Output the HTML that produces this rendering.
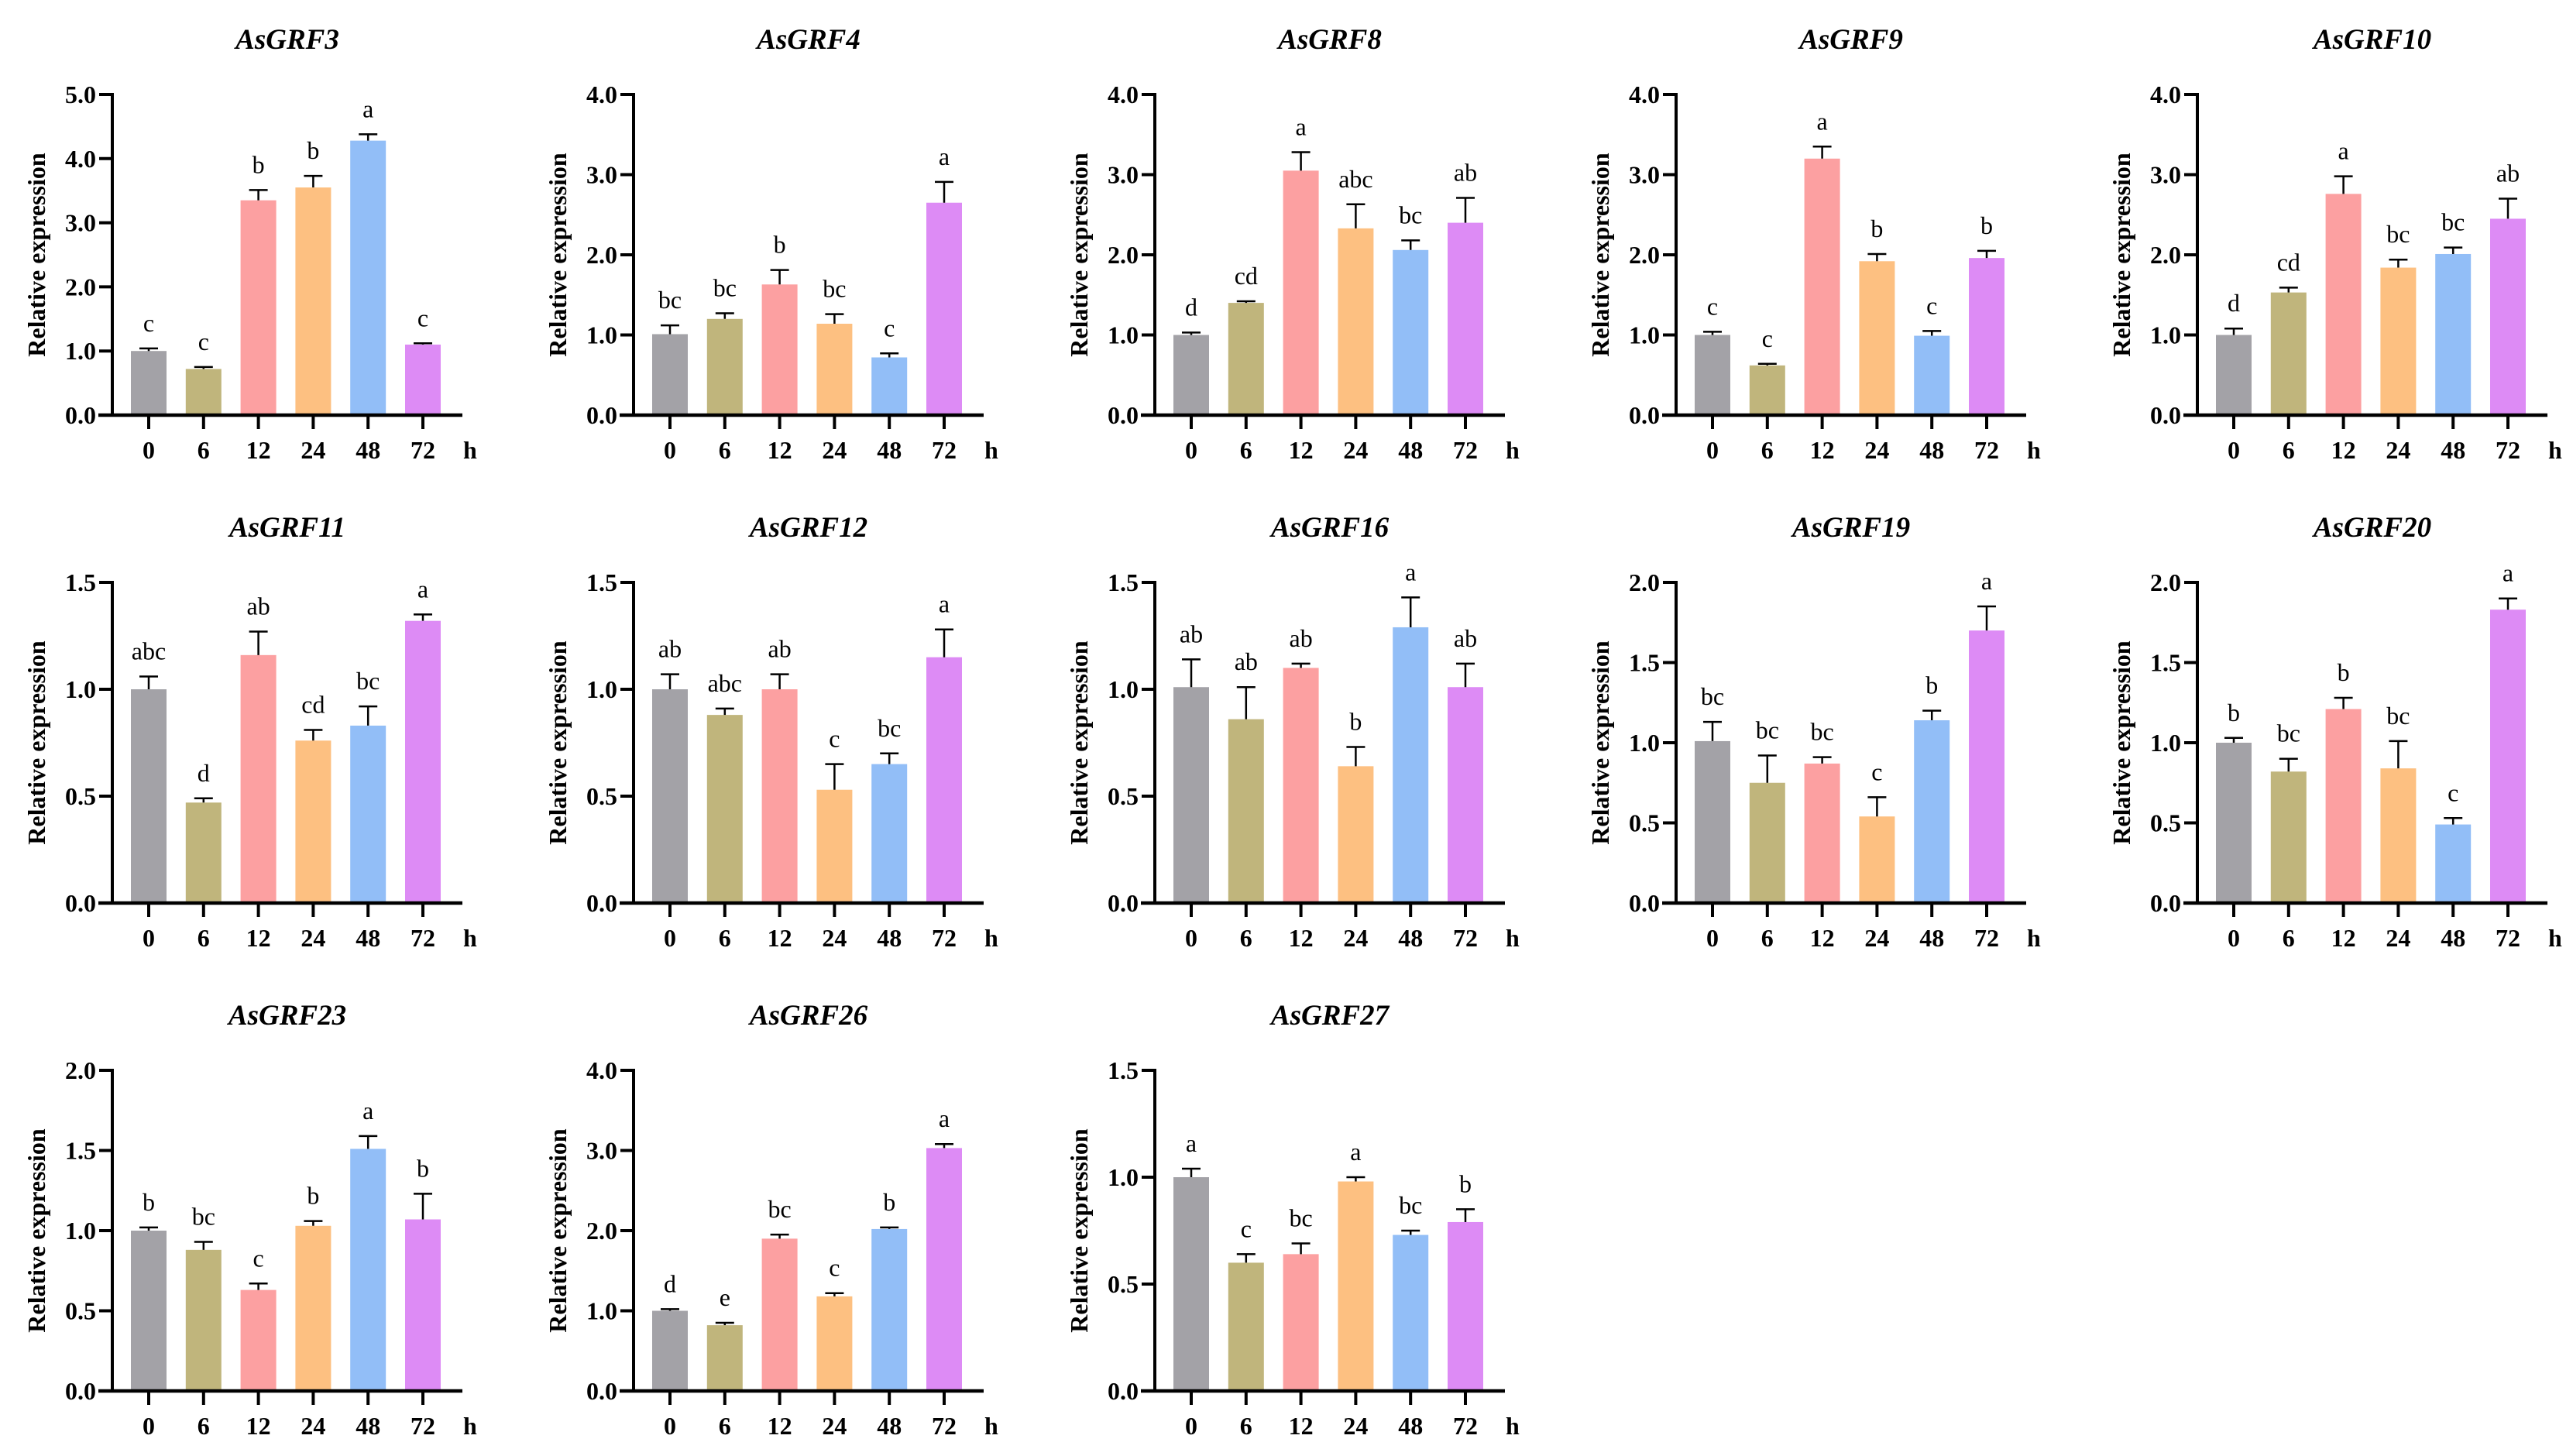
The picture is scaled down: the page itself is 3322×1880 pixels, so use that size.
<!DOCTYPE html>
<html>
<head>
<meta charset="utf-8">
<style>
html,body{margin:0;padding:0;background:#fff;}
svg{display:block;}
text{font-family:"Liberation Serif","Times New Roman",serif;fill:#000;}
</style>
</head>
<body>
<svg id="fig" width="3322" height="1880" viewBox="0 0 3322 1880" xmlns="http://www.w3.org/2000/svg"></svg>
<script>
const timePoints = ["0","6","12","24","48","72"];
const barColors = ["#a3a2a7","#c0b57c","#fca0a1","#fdc081","#92bef7","#dd8bf5"];
const geneNames = ["AsGRF3","AsGRF4","AsGRF8","AsGRF9","AsGRF10","AsGRF11","AsGRF12","AsGRF16","AsGRF19","AsGRF20","AsGRF23","AsGRF26","AsGRF27"];
const yMaxes = [5,4,4,4,4,1.5,1.5,1.5,2,2,2,4,1.5];
const yStepValues = [1,1,1,1,1,0.5,0.5,0.5,0.5,0.5,0.5,1,0.5];
const grf3Values=[1.0,0.72,3.35,3.55,4.28,1.1];   const grf3Err=[0.04,0.03,0.16,0.18,0.1,0.02];  const grf3Letters=["c","c","b","b","a","c"];
const grf4Values=[1.01,1.2,1.63,1.14,0.72,2.65]; const grf4Err=[0.11,0.07,0.18,0.12,0.05,0.26]; const grf4Letters=["bc","bc","b","bc","c","a"];
const grf8Values=[1.0,1.4,3.05,2.33,2.06,2.4];   const grf8Err=[0.03,0.02,0.23,0.3,0.12,0.31];  const grf8Letters=["d","cd","a","abc","bc","ab"];
const grf9Values=[1.0,0.62,3.2,1.92,0.99,1.96];  const grf9Err=[0.04,0.02,0.15,0.09,0.06,0.09]; const grf9Letters=["c","c","a","b","c","b"];
const grf10Values=[1.0,1.53,2.76,1.84,2.01,2.45];const grf10Err=[0.08,0.06,0.22,0.1,0.08,0.25]; const grf10Letters=["d","cd","a","bc","bc","ab"];
const grf11Values=[1.0,0.47,1.16,0.76,0.83,1.32];const grf11Err=[0.06,0.02,0.11,0.05,0.09,0.03];const grf11Letters=["abc","d","ab","cd","bc","a"];
const grf12Values=[1.0,0.88,1.0,0.53,0.65,1.15]; const grf12Err=[0.07,0.03,0.07,0.12,0.05,0.13];const grf12Letters=["ab","abc","ab","c","bc","a"];
const grf16Values=[1.01,0.86,1.1,0.64,1.29,1.01];const grf16Err=[0.13,0.15,0.02,0.09,0.14,0.11];const grf16Letters=["ab","ab","ab","b","a","ab"];
const grf19Values=[1.01,0.75,0.87,0.54,1.14,1.7];const grf19Err=[0.12,0.17,0.04,0.12,0.06,0.15];const grf19Letters=["bc","bc","bc","c","b","a"];
const grf20Values=[1.0,0.82,1.21,0.84,0.49,1.83];const grf20Err=[0.03,0.08,0.07,0.17,0.04,0.07];const grf20Letters=["b","bc","b","bc","c","a"];
const grf23Values=[1.0,0.88,0.63,1.03,1.51,1.07];const grf23Err=[0.02,0.05,0.04,0.03,0.08,0.16];const grf23Letters=["b","bc","c","b","a","b"];
const grf26Values=[1.0,0.82,1.9,1.18,2.02,3.03]; const grf26Err=[0.02,0.03,0.05,0.04,0.02,0.05];const grf26Letters=["d","e","bc","c","b","a"];
const grf27Values=[1.0,0.6,0.64,0.98,0.73,0.79]; const grf27Err=[0.04,0.04,0.05,0.02,0.02,0.06];const grf27Letters=["a","c","bc","a","bc","b"];

const allValues=[grf3Values,grf4Values,grf8Values,grf9Values,grf10Values,grf11Values,grf12Values,grf16Values,grf19Values,grf20Values,grf23Values,grf26Values,grf27Values];
const allErr=[grf3Err,grf4Err,grf8Err,grf9Err,grf10Err,grf11Err,grf12Err,grf16Err,grf19Err,grf20Err,grf23Err,grf26Err,grf27Err];
const allLetters=[grf3Letters,grf4Letters,grf8Letters,grf9Letters,grf10Letters,grf11Letters,grf12Letters,grf16Letters,grf19Letters,grf20Letters,grf23Letters,grf26Letters,grf27Letters];

const NS="http://www.w3.org/2000/svg";
const svg=document.getElementById("fig");
function mk(tag,attrs,parent){const e=document.createElementNS(NS,tag);for(const k in attrs)e.setAttribute(k,attrs[k]);parent.appendChild(e);return e;}

const AX0=145, TOP0=122, BASE0=536, COLDX=673, ROWDX=630, PLOTH=BASE0-TOP0;
const AXLEN=452, FIRST=47, SPACING=70.8, BARW=46;

geneNames.forEach((name,ci)=>{
  const col=ci%5, row=Math.floor(ci/5);
  const ax=AX0+col*COLDX, base=BASE0+row*ROWDX, top=TOP0+row*ROWDX;
  const yMax=yMaxes[ci], step=yStepValues[ci];
  const yS=v=>base-v/yMax*PLOTH;
  const xS=i=>ax+FIRST+i*SPACING;
  const g=mk("g",{},svg);
  
  

  const t=mk("text",{x:ax+226,y:top-59,"text-anchor":"middle","font-size":37,"font-weight":"bold","font-style":"italic"},g);
  t.textContent=name;
  
  

  const yl=mk("text",{x:0,y:0,"text-anchor":"middle","font-size":32,"font-weight":"bold",transform:`translate(${ax-87},${(top+base)/2}) rotate(-90)`},g);
  yl.textContent="Relative expression";
  
  

  // bars
  allValues[ci].forEach((v,i)=>{
    const b=mk("rect",{x:xS(i)-BARW/2,y:yS(v),width:BARW,height:base-yS(v),fill:barColors[i]},g);
    
    
    const e=allErr[ci][i], yt=yS(v+e);
    const el=mk("path",{d:`M${xS(i)} ${yS(v)} V${yt} M${xS(i)-12} ${yt} H${xS(i)+12}`,stroke:"#000","stroke-width":2.5,fill:"none"},g);
    
    
    const lt=mk("text",{x:xS(i),y:yt-22,"text-anchor":"middle","font-size":32},g);
    lt.textContent=allLetters[ci][i];
    
    
  });

  // axes
  const yAxis=mk("line",{x1:ax,y1:top-2,x2:ax,y2:base+2,stroke:"#000","stroke-width":4},g);
  
  
  const xAxis=mk("line",{x1:ax-18,y1:base,x2:ax+AXLEN,y2:base,stroke:"#000","stroke-width":4.5},g);
  
  

  for(let k=0;k<=Math.round(yMax/step);k++){
    const v=k*step, y=yS(v);
    const tk=mk("line",{x1:ax-17,y1:y,x2:ax,y2:y,stroke:"#000","stroke-width":4},g);
    
    
    const tl=mk("text",{x:ax-21,y:y+11,"text-anchor":"end","font-size":32,"font-weight":"bold"},g);
    tl.textContent=v.toFixed(1);
    
    
  }
  timePoints.forEach((tp,i)=>{
    const tk=mk("line",{x1:xS(i),y1:base,x2:xS(i),y2:base+18,stroke:"#000","stroke-width":4},g);
    
    
    const tl=mk("text",{x:xS(i),y:base+56,"text-anchor":"middle","font-size":32,"font-weight":"bold"},g);
    tl.textContent=tp;
    
    
  });
  const h=mk("text",{x:ax+453,y:base+56,"font-size":32,"font-weight":"bold"},g);
  h.textContent="h";
  
  
});
</script>
</body>
</html>
